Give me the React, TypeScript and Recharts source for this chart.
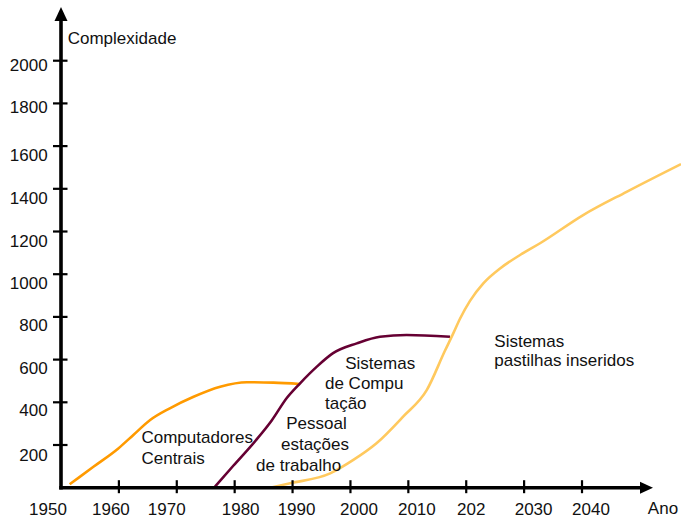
import React from "react";
import { LineChart, Line, XAxis, YAxis, ReferenceLine, ReferenceDot } from "recharts";

// ---- data ----
const xTicks = [1950, 1960, 1970, 1980, 1990, 2000, 2010, 2020, 2030, 2040];
const xTickLabels = ["1950", "1960", "1970", "1980", "1990", "2000", "2010", "202", "2030", "2040"];
const yTicks = [200, 400, 600, 800, 1000, 1200, 1400, 1600, 1800, 2000];

const mainframeYears = [1951.5, 1955.6, 1959.9, 1962.5, 1965.4, 1968.8, 1972.9, 1977.5, 1982.1, 1986.7, 1991.3];
const mainframeValues = [16, 98, 184, 247, 317, 372, 426, 473, 494, 492, 486];

const personalYears = [1976.6, 1979.8, 1983.6, 1986.4, 1989.0, 1991.3, 1994.2, 1997.0, 2001.1, 2005.1, 2009.7, 2017.2];
const personalValues = [5, 104, 220, 315, 420, 489, 567, 630, 676, 707, 715, 707];

const embeddedYears = [1986.1, 1989.6, 1996.5, 2000.5, 2004.5, 2009.1, 2013.2, 2016.3, 2017.8, 2018.9, 2020.65, 2022.95, 2025.9, 2029.3, 2032.75, 2040.2, 2047.7, 2057.1];
const embeddedValues = [0, 21, 67, 130, 208, 333, 458, 640, 725, 790, 875, 957, 1028, 1090, 1145, 1277, 1386, 1516];

const annotationTexts = ["Computadores", "Centrais", "Pessoal", "estações", "de trabalho", "Sistemas", "de Compu", "tação", "Sistemas", "pastilhas inseridos"];
const annotationYears = [1963.9, 1963.9, 1988.9, 1988.0, 1983.7, 1999.1, 1995.6, 1995.6, 2024.85, 2024.85];
const annotationValues = [208, 111, 275, 177, 80, 555, 461, 367, 660, 570];

const yAxisTitle = "Complexidade";
const xAxisTitle = "Ano";

// ---- build tables ----
const toSeries = (xs: number[], vs: number[]) => xs.map((year, i) => ({ year, value: vs[i] }));
const mainframe = toSeries(mainframeYears, mainframeValues);
const personal = toSeries(personalYears, personalValues);
const embedded = toSeries(embeddedYears, embeddedValues);

// ---- styling ----
const FONT = "'Liberation Sans', Arial, sans-serif";
const FS = 17;
const X_LABEL_DX = [-13, -8, -10, 6, 4, 8.5, 8.5, 5, 9.5, 9];
const Y_LABEL_DY = [16, 14, 14, 14, 15, 15, 15, 15, 10, 10];

const XTick = (props: any) => {
  const { x, y, payload, index } = props;
  const i = xTicks.indexOf(payload.value);
  const idx = i >= 0 ? i : index;
  return (
    <g>
      {idx > 0 && <line x1={x} x2={x} y1={y - 7.5} y2={y + 5.5} stroke="#000" strokeWidth={2.2} />}
      <text x={x + X_LABEL_DX[idx]} y={y + 27} textAnchor="middle" fontFamily={FONT} fontSize={FS} fill="#111">
        {xTickLabels[idx]}
      </text>
    </g>
  );
};

const YTick = (props: any) => {
  const { x, y, payload, index } = props;
  const i = yTicks.indexOf(payload.value);
  const idx = i >= 0 ? i : index;
  return (
    <g>
      <line x1={x - 8} x2={x + 6.5} y1={y} y2={y} stroke="#000" strokeWidth={2.2} />
      <text x={x - 13.3} y={y + Y_LABEL_DY[idx]} textAnchor="end" fontFamily={FONT} fontSize={FS} fill="#111">
        {payload.value}
      </text>
    </g>
  );
};

const XArrow = (p: any) => {
  const { x1, y1, x2, y2 } = p;
  return (
    <g>
      <line x1={x1 - 1.8} y1={y1} x2={x2 - 10} y2={y2} stroke="#000" strokeWidth={3.6} />
      <polygon points={`${x2},${y2} ${x2 - 13},${y2 - 6} ${x2 - 13},${y2 + 6}`} fill="#000" />
    </g>
  );
};

const YArrow = (p: any) => {
  const { x1, y1, x2, y2 } = p;
  return (
    <g>
      <line x1={x1} y1={y1 + 1.8} x2={x2} y2={y2 + 10} stroke="#000" strokeWidth={3.6} />
      <polygon points={`${x2},${y2} ${x2 - 6.5},${y2 + 14} ${x2 + 6.5},${y2 + 14}`} fill="#000" />
    </g>
  );
};

const textShape = (text: string, anchor: "start" | "end" = "start") => (p: any) => (
  <text x={p.cx} y={p.cy} textAnchor={anchor} fontFamily={FONT} fontSize={FS} fill="#111">
    {text}
  </text>
);

export default function App() {
  return (
    <div style={{ position: "absolute", left: 0, top: 0, width: 681, height: 520, background: "#fff" }}>
      <LineChart width={681} height={520} margin={{ top: 5.2, right: 0, bottom: 2.3, left: 1 }}>
        <XAxis
          type="number"
          dataKey="year"
          domain={[1950, 2057.1]}
          allowDataOverflow
          ticks={xTicks}
          interval={0}
          axisLine={false}
          tickLine={false}
          tickSize={0}
          tickMargin={0}
          height={30}
          tick={<XTick />}
        />
        <YAxis
          type="number"
          domain={[0, 2260]}
          allowDataOverflow
          ticks={yTicks}
          interval={0}
          axisLine={false}
          tickLine={false}
          tickSize={0}
          tickMargin={0}
          width={60}
          tick={<YTick />}
        />
        <Line data={mainframe} dataKey="value" type="monotone" stroke="#FF9A00" strokeWidth={2.6} dot={false} isAnimationActive={false} />
        <Line data={personal} dataKey="value" type="monotone" stroke="#660033" strokeWidth={2.6} dot={false} isAnimationActive={false} />
        <Line data={embedded} dataKey="value" type="monotone" stroke="#FFC95E" strokeWidth={2.6} dot={false} isAnimationActive={false} />
        <ReferenceLine segment={[{ x: 1950, y: 0 }, { x: 2052.26, y: 0 }]} ifOverflow="visible" shape={XArrow} />
        <ReferenceLine segment={[{ x: 1950, y: 0 }, { x: 1950, y: 2251.5 }]} ifOverflow="visible" shape={YArrow} />
        {annotationTexts.map((t, i) => (
          <ReferenceDot key={i} x={annotationYears[i]} y={annotationValues[i]} r={0} ifOverflow="visible" shape={textShape(t)} />
        ))}
        <ReferenceDot x={1951.15} y={2078} r={0} ifOverflow="visible" shape={textShape(yAxisTitle)} />
        <ReferenceDot x={2056.6} y={-125.5} r={0} ifOverflow="visible" shape={textShape(xAxisTitle, "end")} />
      </LineChart>
    </div>
  );
}
